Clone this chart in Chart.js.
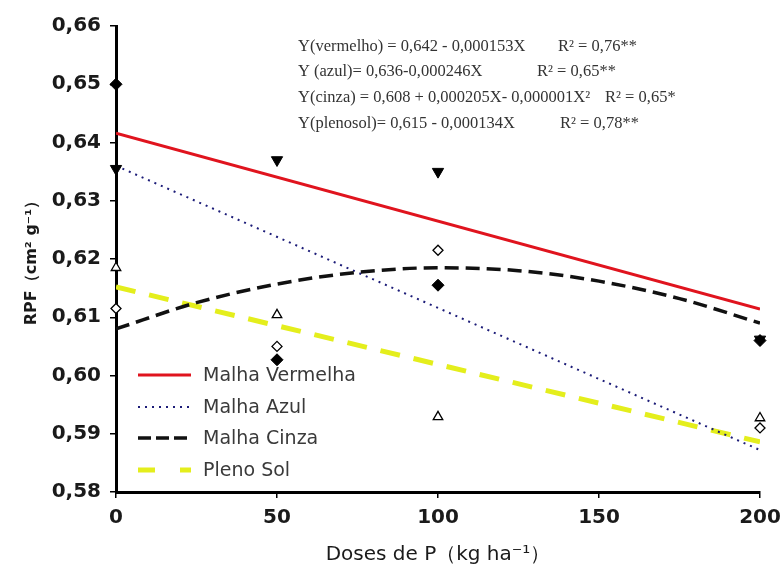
<!DOCTYPE html>
<html>
<head>
<meta charset="utf-8">
<script src="https://cdn.jsdelivr.net/npm/chart.js@4.4.1/dist/chart.umd.min.js"></script>
<style>
  html, body { margin: 0; padding: 0; background: #ffffff; }
  #wrap { width: 784px; height: 580px; position: relative; }
</style>
</head>
<body>
<div id="wrap"><canvas id="c" width="784" height="580"></canvas></div>
<script>
// ---- data ----
const doses = [0, 50, 100, 200];
const obsVermelho = [0.6355, 0.6370, 0.6350, 0.6062];   // filled down-triangles
const obsAzul     = [0.6115, 0.6050, 0.6215, 0.5910];   // open diamonds
const obsCinza    = [0.6500, 0.6027, 0.6155, 0.6060];   // filled diamonds
const obsPleno    = [0.6185, 0.6104, 0.5929, 0.5927];   // open triangles

const fitX = [0, 200];
const fitVermelho = [0.6416, 0.6114];
const fitAzul     = [0.6360, 0.5872];
const fitPleno    = [0.6152, 0.5886];
const fitCinzaX   = [0, 25, 50, 75, 100, 125, 150, 175, 200];
const fitCinza    = [0.6080, 0.6125, 0.6157, 0.6177, 0.6185, 0.6180, 0.6162, 0.6132, 0.6090];

const seriesNames = ['Malha Vermelha', 'Malha Azul', 'Malha Cinza', 'Pleno Sol'];
const xTicks = [0, 50, 100, 150, 200];
const yMin = 0.58, yMax = 0.66, yStep = 0.01;
const xTitle = 'Doses de P（kg ha⁻¹）';
const yTitle = 'RPF（cm² g⁻¹）';
const equations = [
  ['Y(vermelho) = 0,642 - 0,000153X', 'R² = 0,76**'],
  ['Y (azul)= 0,636-0,000246X', 'R² = 0,65**'],
  ['Y(cinza) = 0,608 + 0,000205X- 0,000001X²', 'R² = 0,65*'],
  ['Y(plenosol)= 0,615 - 0,000134X', 'R² = 0,78**']
];

const pts = (xs, ys) => xs.map((x, i) => ({ x: x, y: ys[i] }));

const lineStyles = [
  { color: '#e0141e', width: 3, dash: [] },
  { color: '#1c1c78', width: 2, dash: [2, 5] },
  { color: '#111111', width: 3.5, dash: [14, 7] },
  { color: '#e4ee1c', width: 5, dash: [20, 14] }
];

const datasets = [
  { label: seriesNames[0], data: pts(fitX, fitVermelho), type: 'line', borderColor: lineStyles[0].color, borderWidth: lineStyles[0].width, borderDash: lineStyles[0].dash, pointRadius: 0, fill: false, order: 13 },
  { label: seriesNames[1], data: pts(fitX, fitAzul), type: 'line', borderColor: lineStyles[1].color, borderWidth: lineStyles[1].width, borderDash: lineStyles[1].dash, pointRadius: 0, fill: false, order: 12 },
  { label: seriesNames[2], data: pts(fitCinzaX, fitCinza), type: 'line', borderColor: lineStyles[2].color, borderWidth: lineStyles[2].width, borderDash: lineStyles[2].dash, pointRadius: 0, fill: false, tension: 0.4, cubicInterpolationMode: 'monotone', order: 11 },
  { label: seriesNames[3], data: pts(fitX, fitPleno), type: 'line', borderColor: lineStyles[3].color, borderWidth: lineStyles[3].width, borderDash: lineStyles[3].dash, pointRadius: 0, fill: false, order: 14 },
  { label: 'obs vermelho', data: pts(doses, obsVermelho), showLine: false, clip: false, pointStyle: 'triangle', rotation: 180, pointRadius: 6.5, backgroundColor: '#000', borderColor: '#000', borderWidth: 1, order: 1 },
  { label: 'obs azul', data: pts(doses, obsAzul), showLine: false, clip: false, pointStyle: 'rectRot', pointRadius: 5, backgroundColor: '#fff', borderColor: '#000', borderWidth: 1.3, order: 3 },
  { label: 'obs cinza', data: pts(doses, obsCinza), showLine: false, clip: false, pointStyle: 'rectRot', pointRadius: 6, backgroundColor: '#000', borderColor: '#000', borderWidth: 1, order: 2 },
  { label: 'obs pleno', data: pts(doses, obsPleno), showLine: false, clip: false, pointStyle: 'triangle', pointRadius: 5.5, backgroundColor: '#fff', borderColor: '#000', borderWidth: 1.3, order: 4 }
];

const overlayPlugin = {
  id: 'overlay',
  afterDraw(chart) {
    const ctx = chart.ctx;
    ctx.save();
    // equations
    const eqY = [47, 72, 98, 124];
    const r2X = [558, 537, 605, 560];
    ctx.fillStyle = '#333333';
    ctx.font = "15px 'Liberation Serif'";
    ctx.textBaseline = 'middle';
    ctx.textAlign = 'left';
    equations.forEach((e, i) => {
      ctx.save(); ctx.translate(298, eqY[i]); ctx.scale(1.1, 1.05); ctx.fillText(e[0], 0, 0); ctx.restore();
      ctx.save(); ctx.translate(r2X[i], eqY[i]); ctx.scale(1.1, 1.05); ctx.fillText(e[1], 0, 0); ctx.restore();
    });
    // legend
    const legY = [375, 407, 438, 470];
    const legDash = [[], [2, 5], [13, 5], [17, 25]];
    seriesNames.forEach((name, i) => {
      const st = lineStyles[i];
      ctx.beginPath();
      ctx.setLineDash(legDash[i]);
      ctx.strokeStyle = st.color;
      ctx.lineWidth = st.width;
      ctx.moveTo(138, legY[i]);
      ctx.lineTo(191, legY[i]);
      ctx.stroke();
      ctx.setLineDash([]);
      ctx.fillStyle = '#3a3a3a';
      ctx.font = "19px 'DejaVu Sans'";
      ctx.fillText(name, 203, legY[i] + 1);
    });
    ctx.restore();
  }
};

new Chart(document.getElementById('c'), {
  type: 'scatter',
  data: { datasets: datasets },
  options: {
    responsive: false,
    animation: false,
    layout: { padding: { left: 0, top: 26, right: 24, bottom: 0 } },
    plugins: { legend: { display: false }, tooltip: { enabled: false } },
    scales: {
      x: {
        type: 'linear', min: 0, max: 200,
        afterBuildTicks: s => { s.ticks = xTicks.map(v => ({ value: v })); },
        afterFit: s => { s.height = 88; s.paddingLeft = 0; s.paddingRight = 0; },
        border: { display: true, color: '#000', width: 3 },
        grid: { drawOnChartArea: false, drawTicks: true, tickLength: 6, color: '#000', lineWidth: 1.5 },
        ticks: { color: '#1a1a1a', font: { family: 'DejaVu Sans', weight: 'bold', size: 20 }, padding: 8, maxRotation: 0 },
        title: { display: true, text: xTitle, color: '#1a1a1a', font: { family: 'DejaVu Sans', size: 20 }, padding: { top: 0, bottom: 13 } }
      },
      y: {
        type: 'linear', min: yMin, max: yMax,
        ticks: { stepSize: yStep, color: '#1a1a1a', font: { family: 'DejaVu Sans', weight: 'bold', size: 20 }, padding: 9,
          callback: v => v.toFixed(2).replace('.', ',') },
        afterFit: s => { s.width = 116; s.paddingTop = 0; s.paddingBottom = 0; },
        border: { display: true, color: '#000', width: 3 },
        grid: { drawOnChartArea: false, drawTicks: true, tickLength: 6, color: '#000', lineWidth: 1.5 },
        title: { display: true, text: yTitle, color: '#1a1a1a', font: { family: 'DejaVu Sans', weight: 'bold', size: 16 }, padding: { top: 22, bottom: 0 } }
      }
    }
  },
  plugins: [overlayPlugin]
});
</script>
</body>
</html>
